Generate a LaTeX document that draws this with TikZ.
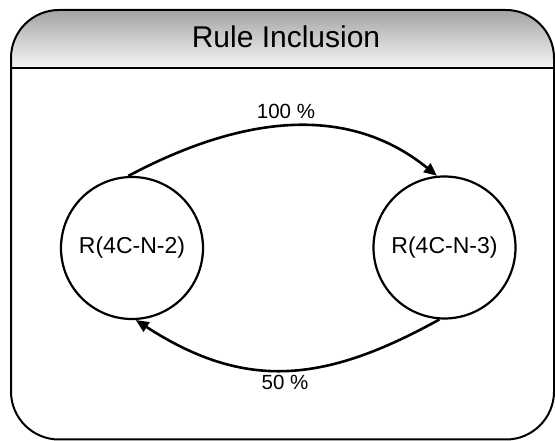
\documentclass[tikz,border=0pt]{standalone}
\usepackage{fontspec}
\setmainfont{Liberation Sans}
\usetikzlibrary{arrows.meta}
\begin{document}
\begin{tikzpicture}[
  x=1pt, y=1pt,
  frame/.style={draw, line width=2pt, rounded corners=48pt},
  state/.style={draw, circle, line width=2.2pt, minimum size=142pt, inner sep=0pt, font=\fontsize{23}{27}\selectfont},
  lbl/.style={anchor=base, font=\fontsize{20.5}{24}\selectfont},
  arr/.style={-{Triangle[length=13pt,width=11pt]}, line width=2.6pt}
]
\useasboundingbox (0,0) rectangle (555,441);
\begin{scope}
\clip[rounded corners=48pt] (11,1.5) rectangle (554,431);
\shade[top color=black!36, bottom color=black!3] (11,372.5) rectangle (554,431);
\end{scope}
\draw[frame] (11,1.5) rectangle (554,431);
\draw[line width=2pt] (11,372.5) -- (554,372.5);
\node[anchor=base, font=\fontsize{30}{36}\selectfont] (title) at (286,393) {Rule Inclusion};
\node[state] (r2) at (132,193) {R(4C-N-2)};
\node[state] (r3) at (444.5,193.5) {R(4C-N-3)};
\draw[arr] (r2.93) to[out=28, in=141] (r3.96);
\draw[arr] (r3.266) to[out=209, in=327, looseness=1.1] (r2.273);
\node[lbl] (top) at (286,322) {100 \%};
\node[lbl] (bottom) at (285,51) {50 \%};
\end{tikzpicture}
\end{document}
